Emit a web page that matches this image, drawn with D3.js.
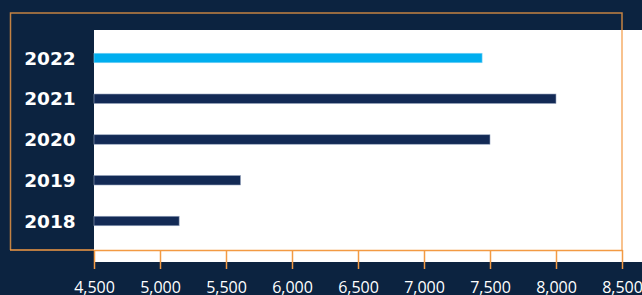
<!DOCTYPE html>
<html>
<head>
<meta charset="utf-8">
<script src="https://cdn.jsdelivr.net/npm/d3@7"></script>
<style>
  html, body { margin: 0; padding: 0; background: #0c2340; }
  svg { display: block; }
</style>
</head>
<body>
<script>
// chart data
var years = ["2022", "2021", "2020", "2019", "2018"];
var values = [7440, 8000, 7500, 5610, 5145];
var tickValues = [4500, 5000, 5500, 6000, 6500, 7000, 7500, 8000, 8500];
var barColors = ["#00aeef", "#132a55", "#132a55", "#132a55", "#132a55"];

var width = 642, height = 295;
var orange = "#f39a43";

var svg = d3.select("body").append("svg")
  .attr("width", width)
  .attr("height", height);

// background
svg.append("rect")
  .attr("width", width)
  .attr("height", height)
  .attr("fill", "#0c2340");

// white plot panel
svg.append("rect")
  .attr("x", 94)
  .attr("y", 30)
  .attr("width", width - 94)
  .attr("height", 232)
  .attr("fill", "#ffffff");

// scales
var x = d3.scaleLinear()
  .domain([4500, 8500])
  .range([94, 622]);

var y = d3.scalePoint()
  .domain(years)
  .range([58, 221]);

var barHeight = 9.5;

// bars
svg.append("g")
  .selectAll("rect")
  .data(years)
  .enter()
  .append("rect")
  .attr("x", x(4500))
  .attr("y", function(d) { return y(d) - barHeight / 2; })
  .attr("width", function(d, i) { return x(values[i]) - x(4500); })
  .attr("height", barHeight)
  .attr("fill", function(d, i) { return barColors[i]; })
  .attr("stroke", function(d, i) { return i == 0 ? "#7fd3f5" : "#98a6bf"; })
  .attr("stroke-width", 0.6);

// year labels
svg.append("g")
  .selectAll("text")
  .data(years)
  .enter()
  .append("text")
  .attr("x", 50)
  .attr("y", function(d) { return y(d); })
  .attr("dy", "0.36em")
  .attr("text-anchor", "middle")
  .attr("fill", "#ffffff")
  .attr("font-family", "'DejaVu Sans', sans-serif")
  .attr("font-weight", "bold")
  .attr("font-size", 18.5)
  .text(function(d) { return d; });

// orange frame (left, top, right)
svg.append("path")
  .attr("d", "M10.5,250 V13 H622 V250")
  .attr("fill", "none")
  .attr("stroke", orange)
  .attr("stroke-opacity", 0.8)
  .attr("stroke-width", 1.5);

// frame bottom line left of axis
svg.append("line")
  .attr("x1", 10)
  .attr("x2", 94)
  .attr("y1", 250)
  .attr("y2", 250)
  .attr("stroke", orange)
  .attr("stroke-width", 1.5);

// x axis
var xAxis = d3.axisBottom(x)
  .tickValues(tickValues)
  .tickFormat(d3.format(","))
  .tickSize(19)
  .tickSizeOuter(0)
  .tickPadding(12.6);

var gx = svg.append("g")
  .attr("transform", "translate(0,250)")
  .call(xAxis);

gx.select(".domain")
  .attr("stroke", orange)
  .attr("stroke-width", 1.5);
gx.selectAll(".tick line")
  .attr("stroke", orange)
  .attr("stroke-width", 1.5);
gx.selectAll(".tick text")
  .attr("fill", "#ffffff")
  .attr("font-family", "'Open Sans', sans-serif")
  .attr("font-size", 16);
</script>
</body>
</html>
